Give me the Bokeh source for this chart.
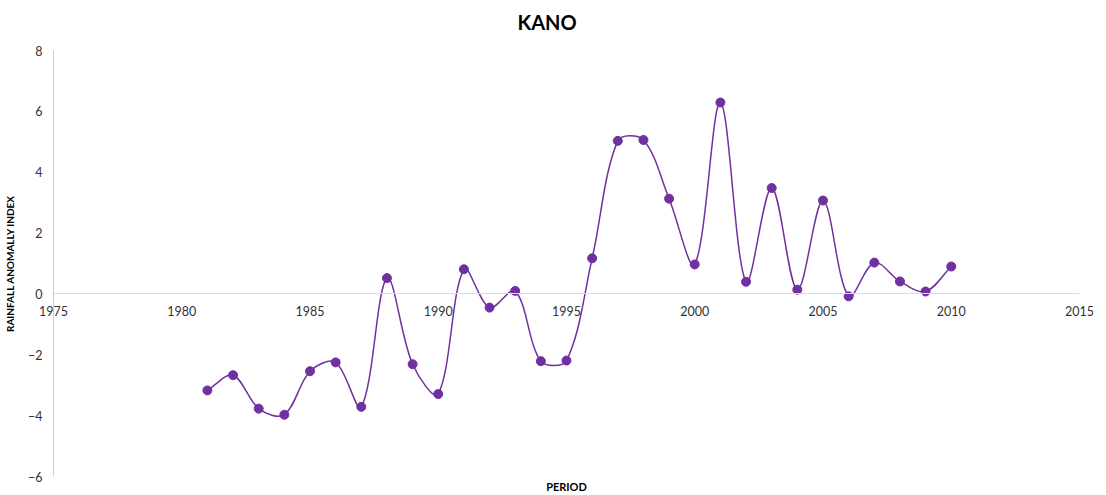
from bokeh.plotting import figure
from bokeh.models import Range1d, FixedTicker, Label
from bokeh.embed import file_html
from bokeh.resources import INLINE

# ---- data ----
years = list(range(1981, 2011))
rai = [-3.17, -2.67, -3.77, -3.97, -2.54, -2.25, -3.71, 0.52, -2.31, -3.29,
       0.81, -0.45, 0.10, -2.21, -2.19, 1.17, 5.03, 5.06, 3.13, 0.97,
       6.29, 0.40, 3.48, 0.14, 3.07, -0.08, 1.03, 0.41, 0.08, 0.90]
x_ticks = [1975, 1980, 1985, 1990, 1995, 2000, 2005, 2010, 2015]
y_ticks = [-6, -4, -2, 0, 2, 4, 6, 8]
title_text = "KANO"
x_label = "PERIOD"
y_label = "RAINFALL ANOMALLY INDEX"

PURPLE = "#7030A0"
FONT = "Lato"

# axis extents (the drawn axes span exactly these)
AX0, AX1, AY0, AY1 = 1975, 2015, -6, 8
# layout in canvas pixels
W, H = 1100, 494
AXIS_LEFT, AXIS_RIGHT = 53, 1079        # where 1975 / 2015 fall
AXIS_TOP, AXIS_BOTTOM = 50, 476         # where 8 / -6 fall
FRAME_L, FRAME_R, FRAME_T, FRAME_B = 0, 1093, 44, 494
SX = (AXIS_RIGHT - AXIS_LEFT) / (AX1 - AX0)
SY = (AXIS_BOTTOM - AXIS_TOP) / (AY1 - AY0)
x_start = AX0 - (AXIS_LEFT - FRAME_L) / SX
x_end = AX1 + (FRAME_R - AXIS_RIGHT) / SX
y_end = AY1 + (AXIS_TOP - FRAME_T) / SY
y_start = AY0 - (FRAME_B - AXIS_BOTTOM) / SY

# smoothed line (Excel-like) as cubic bezier segments through the data points
n = len(years)
def dist(i, j):
    return (((years[j] - years[i]) * SX) ** 2 + ((rai[j] - rai[i]) * SY) ** 2) ** 0.5

x0s, y0s, x1s, y1s, cx0, cy0, cx1, cy1 = [], [], [], [], [], [], [], []
T = 1.0 / 3.0
for i in range(n - 1):
    ip = i - 1 if i > 0 else i
    inx = i + 2 if i + 2 < n else i + 1
    d12 = dist(i, i + 1)
    wa = d12 / (dist(ip, i) + d12)
    wb = d12 / (d12 + dist(i + 1, inx))
    x0s.append(years[i]); y0s.append(rai[i])
    x1s.append(years[i + 1]); y1s.append(rai[i + 1])
    cx0.append(years[i] + (years[i + 1] - years[ip]) * T * wa)
    cy0.append(rai[i] + (rai[i + 1] - rai[ip]) * T * wa)
    cx1.append(years[i + 1] - (years[inx] - years[i]) * T * wb)
    cy1.append(rai[i + 1] - (rai[inx] - rai[i]) * T * wb)

p = figure(width=W, height=H, output_backend="svg", toolbar_location=None,
           x_range=Range1d(x_start, x_end), y_range=Range1d(y_start, y_end),
           min_border_left=FRAME_L, min_border_right=W - FRAME_R,
           min_border_top=FRAME_T, min_border_bottom=H - FRAME_B)
p.outline_line_color = None
p.grid.visible = False
p.background_fill_color = "white"
p.border_fill_color = "white"

p.title.text = title_text
p.title.align = "center"
p.title.vertical_align = "top"
p.title.text_font = FONT
p.title.text_font_size = "20px"
p.title.text_font_style = "bold"
p.title.text_color = "#000000"
p.title.standoff = 18

# x axis crossing at y = 0
xa = p.xaxis[0]
xa.fixed_location = 0
xa.bounds = (AX0, AX1)
xa.ticker = FixedTicker(ticks=x_ticks)
xa.major_tick_line_color = None
xa.minor_tick_line_color = None
xa.major_tick_out = 0
xa.major_tick_in = 0
xa.axis_line_color = "#d9d9ec"
xa.axis_line_width = 1
xa.major_label_standoff = 12
xa.major_label_text_font = FONT
xa.major_label_text_font_size = "12.5px"
xa.major_label_text_color = "#333333"

# y axis at x = 1975
ya_ = p.yaxis[0]
ya_.fixed_location = AX0
ya_.bounds = (AY0, AY1)
ya_.ticker = FixedTicker(ticks=y_ticks)
ya_.major_tick_line_color = None
ya_.minor_tick_line_color = None
ya_.major_tick_out = 0
ya_.major_tick_in = 0
ya_.axis_line_color = "#c3cfe4"
ya_.major_label_standoff = 11
ya_.major_label_text_font = FONT
ya_.major_label_text_font_size = "12.5px"
ya_.major_label_text_color = "#333333"
ya_.axis_label = y_label
ya_.axis_label_text_font = FONT
ya_.axis_label_text_font_size = "10px"
ya_.axis_label_text_font_style = "bold"
ya_.axis_label_text_color = "#000000"
ya_.axis_label_standoff = 9

p.add_layout(Label(x=(AX0 + AX1) / 2, y=AY0, y_offset=-10, text=x_label,
                   text_align="center", text_baseline="middle", text_font=FONT,
                   text_font_size="11px", text_font_style="bold",
                   text_color="#000000"))

p.bezier(x0=x0s, y0=y0s, x1=x1s, y1=y1s, cx0=cx0, cy0=cy0, cx1=cx1, cy1=cy1,
         line_color=PURPLE, line_width=1.5)
p.scatter(years, rai, size=9, fill_color=PURPLE, line_color=PURPLE)

open("out.html", "w").write(file_html(p, INLINE))
